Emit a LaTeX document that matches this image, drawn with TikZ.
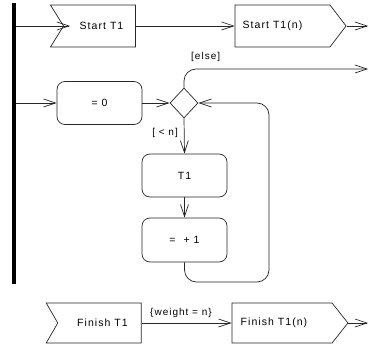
\documentclass[tikz,border=0pt]{standalone}
\usepackage{fontspec}
\setmainfont{Liberation Sans}[LetterSpace=10]
\usetikzlibrary{shapes.symbols,shapes.geometric,arrows.meta}
\begin{document}
\begin{tikzpicture}[x=1pt,y=-1pt,
  line/.style={line width=0.7pt, draw=black!85},
  flow/.style={line, -{Straight Barb[length=12pt,width=8pt,line width=0.7pt]}},
  txt/.style={font=\fontsize{10.5}{12}\selectfont, text=black},
  action/.style={txt, draw=black!85, line width=0.7pt, rounded corners=8pt,
    minimum width=85pt, minimum height=43pt, inner sep=0pt},
  accept/.style={txt, signal, draw=black!85, line width=0.7pt, signal from=west,
    signal to=nowhere, inner sep=0pt},
  send/.style={txt, signal, draw=black!85, line width=0.7pt, signal to=east,
    signal from=nowhere, inner sep=0pt},
  choice/.style={diamond, draw=black!85, line width=0.7pt, inner sep=0pt,
    minimum width=28pt, minimum height=30pt},
  guard/.style={font=\fontsize{10}{11}\selectfont, text=black, inner sep=0pt}]
\useasboundingbox (0,0) rectangle (369,350);

% fork bar
\node[fill=black, minimum width=4pt, minimum height=281pt, inner sep=0pt] (fork) at (14,143.5) {};

% start signals
\node[accept, minimum width=85pt, minimum height=42pt, signal pointer angle=116] (st1) at (99.5,26) {\hspace*{4pt}Start T1};
\coordinate (st1notch) at (70,26);
\node[send, minimum width=111pt, minimum height=42pt, signal pointer angle=105] (st1n) at (282.5,26) {\hspace*{-20pt}Start T1(n)};
\coordinate (st1out) at (368,26);

% loop
\node[action] (init) at (99.5,103) {= 0};
\node[choice] (dec) at (184,103) {};
\node[action] (body) at (184.5,175.5) {T1};
\node[action, minimum height=44pt] (inc) at (184.5,240) {=\ \ + 1};
\coordinate (elseout) at (368,69);
\coordinate (loopc) at (269,282);

% finish signals
\node[accept, minimum width=95pt, minimum height=40pt, signal pointer angle=120] (ft1) at (99.5,323) {\hspace*{6pt}Finish T1};
\node[send, minimum width=116pt, minimum height=40pt, signal pointer angle=103] (ft1n) at (282,323) {\hspace*{-16pt}Finish T1(n)};
\coordinate (ft1out) at (368,323);

% connectors
\draw[flow] (fork.east |- st1notch) -- (st1notch);
\draw[flow] (st1.east) -- (st1.east -| st1n.west);
\draw[flow] (st1n.east) -- (st1out);
\draw[flow] (fork.east |- init.west) -- (init.west);
\draw[flow] (init.east) -- (dec.west);
\draw[flow, rounded corners=12pt] (dec.north) |- (elseout);
\draw[flow] (dec.south) -- (body.north);
\draw[flow] (body.south) -- (inc.north);
\draw[flow, rounded corners=12pt] (inc.south) |- (loopc) |- (dec.east);
\draw[flow] (ft1.east) -- (ft1.east -| ft1n.west);
\draw[flow] (ft1n.east) -- (ft1out);

% guards
\node[guard, anchor=west] (elselbl) at (191,57) {[else]};
\node[guard, anchor=east] (lesslbl) at (178,133) {[ < n]};
\node[guard] (weightlbl) at (181,313) {\{weight = n\}};
\end{tikzpicture}
\end{document}
